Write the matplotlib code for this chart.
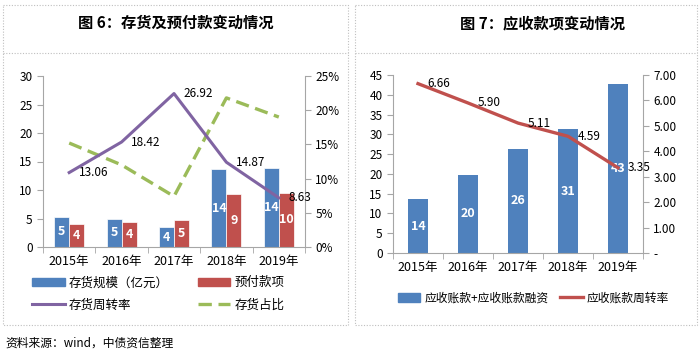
import numpy as np
import matplotlib.pyplot as plt
from matplotlib.patches import Rectangle, Patch
from matplotlib.lines import Line2D
from matplotlib.ticker import FuncFormatter

plt.rcParams['font.family'] = ['Noto Sans CJK SC', 'DejaVu Sans']

######## DATA

years = ['2015年', '2016年', '2017年', '2018年', '2019年']

# figure 6
inventory = [5.3, 5.0, 3.5, 13.6, 13.8]
inventory_lbl = ['5', '5', '4', '14', '14']
prepay = [4.1, 4.3, 4.8, 9.3, 9.5]
prepay_lbl = ['4', '4', '5', '9', '10']
turnover = [13.06, 18.42, 26.92, 14.87, 8.63]
inv_share = [15.2, 12.0, 7.4, 21.8, 19.0]

# figure 7
receivable = [13.6, 19.8, 26.3, 31.3, 42.7]
receivable_lbl = ['14', '20', '26', '31', '43']
rec_turnover = [6.66, 5.90, 5.11, 4.59, 3.35]

BLUE = '#4F81BD'
RED = '#C0504D'
PURPLE = '#8064A2'
GREEN = '#9BBB59'
AXC = '#A6A6A6'
DASH = (0, (4, 2))

W, H = 700, 355
fig = plt.figure(figsize=(W / 100, H / 100), dpi=100)

def px(x0, y0, x1, y1):
    # pixel box (top-left origin) -> figure fraction rect
    return [x0 / W, 1 - y1 / H, (x1 - x0) / W, (y1 - y0) / H]

def style_axes(ax, ax2):
    for a in (ax, ax2):
        for s in a.spines.values():
            s.set_color(AXC)
        a.spines['top'].set_visible(False)
        a.tick_params(colors=AXC, labelcolor='black', labelsize=8.5, length=4, width=0.8)
    ax.spines['right'].set_visible(False)
    ax2.spines['left'].set_visible(False)
    ax2.spines['bottom'].set_visible(False)
    ax.set_xticks(range(5))
    ax.set_xticklabels(years, fontsize=9)
    ax.tick_params(axis='x', length=0, pad=6)
    ax.set_xticks(np.arange(-0.5, 5, 1), minor=True)
    ax.tick_params(axis='x', which='minor', length=4, colors=AXC)
    ax.set_xlim(-0.5, 4.5)

# panel frames (dotted)
frame = fig.add_axes([0, 0, 1, 1])
frame.set_xlim(0, W)
frame.set_ylim(H, 0)
frame.axis('off')
for x0, x1 in ((3, 348), (355, 697)):
    frame.add_patch(Rectangle((x0, 5), x1 - x0, 320, fill=False, ec='#BFBFBF', lw=0.8, ls=(0, (1, 1.5))))
    frame.plot([x0, x1], [53, 53], color='#BFBFBF', lw=0.8, ls=(0, (1, 1.5)))

fig.text(176 / W, 1 - 23 / H, '图 6：存货及预付款变动情况', ha='center', va='center', fontsize=11, fontweight='bold')
fig.text(543 / W, 1 - 23 / H, '图 7：应收款项变动情况', ha='center', va='center', fontsize=11, fontweight='bold')
fig.text(5 / W, 1 - 343 / H, '资料来源：wind，中债资信整理', ha='left', va='center', fontsize=8.5)

######## FIGURE 6

ax = fig.add_axes(px(43, 76, 305, 247))
ax2 = ax.twinx()
x = np.arange(5)
bw = 0.285
ax.bar(x - bw / 2, inventory, bw, color=BLUE, ec='white', lw=0.5, zorder=2)
ax.bar(x + bw / 2, prepay, bw, color=RED, ec='white', lw=0.5, zorder=2)
for i in range(5):
    ax.text(x[i] - bw / 2, inventory[i] / 2, inventory_lbl[i], ha='center', va='center',
            color='white', fontsize=9, fontweight='bold', zorder=5)
    ax.text(x[i] + bw / 2, prepay[i] / 2, prepay_lbl[i], ha='center', va='center',
            color='white', fontsize=9, fontweight='bold', zorder=5)
ax.plot(x, turnover, color=PURPLE, lw=2.2, zorder=3)
for i in range(5):
    ax.annotate('%.2f' % turnover[i], (x[i], turnover[i]), xytext=(7, 0), textcoords='offset points',
                ha='left', va='center', fontsize=8.5, zorder=6)
ax2.plot(x, inv_share, color=GREEN, lw=2.4, ls=DASH)
ax.set_ylim(0, 30)
ax.set_yticks(range(0, 31, 5))
ax2.set_ylim(0, 25)
ax2.set_yticks(range(0, 26, 5))
ax2.yaxis.set_major_formatter(FuncFormatter(lambda v, p: '%d%%' % v))
ax.set_zorder(ax2.get_zorder() + 1)
ax.patch.set_visible(False)
style_axes(ax, ax2)

h6 = [Patch(color=BLUE), Line2D([], [], color=PURPLE, lw=2.2),
      Patch(color=RED), Line2D([], [], color=GREEN, lw=2.4, ls=DASH)]
l6 = ['存货规模（亿元）', '存货周转率', '预付款项', '存货占比']
fig.legend(h6, l6, ncol=2, loc='center left', bbox_to_anchor=(27 / W, 1 - 294 / H),
           frameon=False, fontsize=9, handlelength=2.6, handleheight=0.7, handletextpad=0.35,
           columnspacing=2.3, labelspacing=0.75, borderaxespad=0)

######## FIGURE 7

bx = fig.add_axes(px(393, 75, 643, 253))
bx2 = bx.twinx()
bx.bar(x, receivable, 0.4, color=BLUE, zorder=2)
for i in range(5):
    bx.text(x[i], receivable[i] / 2, receivable_lbl[i], ha='center', va='center',
            color='white', fontsize=9, fontweight='bold', zorder=5)
bx2.plot(x, rec_turnover, color=RED, lw=2.4)
for i in range(5):
    bx2.annotate('%.2f' % rec_turnover[i], (x[i], rec_turnover[i]), xytext=(7, 0), textcoords='offset points',
                 ha='left', va='center', fontsize=8.5)
bx.set_ylim(0, 45)
bx.set_yticks(range(0, 46, 5))
bx2.set_ylim(0, 7)
bx2.set_yticks(range(0, 8))
bx2.yaxis.set_major_formatter(FuncFormatter(lambda v, p: '-' if v == 0 else '%.2f' % v))
style_axes(bx, bx2)

h7 = [Patch(color=BLUE), Line2D([], [], color=RED, lw=2.4)]
l7 = ['应收账款+应收账款融资', '应收账款周转率']
fig.legend(h7, l7, ncol=2, loc='center left', bbox_to_anchor=(393 / W, 1 - 298 / H),
           frameon=False, fontsize=8.5, handlelength=1.9, handleheight=0.7, handletextpad=0.35,
           columnspacing=1.0, borderaxespad=0)

fig.savefig('out.png', dpi=100)
